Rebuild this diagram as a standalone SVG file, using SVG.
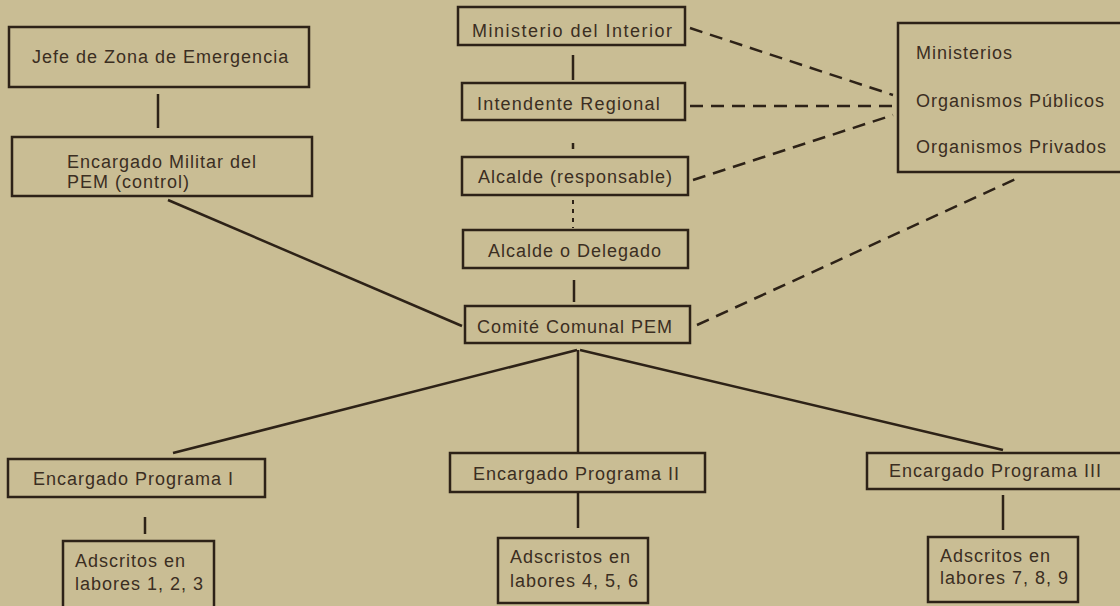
<svg xmlns="http://www.w3.org/2000/svg" width="1120" height="606" viewBox="0 0 1120 606">
<style>
.bg{fill:#c9bd94}
.box{fill:none;stroke:#2d2217;stroke-width:2.5}
.t{font-family:"Liberation Sans",Arial,sans-serif;font-size:18px;fill:#3b2e22;letter-spacing:1px}
.ln{stroke:#2d2217;stroke-width:2.5;fill:none}
.dash{stroke:#2d2217;stroke-width:2.5;fill:none;stroke-dasharray:13 8}
.dot{stroke:#2d2217;stroke-width:2;fill:none;stroke-dasharray:4 5}
</style>
<rect class="bg" x="0" y="0" width="1120" height="606"/>
<g id="connectors">
<line class="ln" x1="158" y1="94" x2="158" y2="128"/>
<line class="ln" x1="573" y1="55" x2="573" y2="80"/>
<line class="ln" x1="573" y1="143" x2="573" y2="149"/>
<line class="dot" x1="573" y1="200" x2="573" y2="228"/>
<line class="ln" x1="574" y1="280" x2="574" y2="302"/>
<line class="ln" x1="168" y1="200" x2="462" y2="326"/>
<line class="ln" x1="577" y1="350" x2="173" y2="453"/>
<line class="ln" x1="578" y1="350" x2="578" y2="453"/>
<line class="ln" x1="580" y1="350" x2="1003" y2="450"/>
<line class="ln" x1="145" y1="517" x2="145" y2="534"/>
<line class="ln" x1="578" y1="492" x2="578" y2="528"/>
<line class="ln" x1="1003" y1="495" x2="1003" y2="530"/>
<line class="dash" x1="690" y1="28" x2="893" y2="95"/>
<line class="dash" x1="690" y1="106" x2="893" y2="106"/>
<line class="dash" x1="693" y1="180" x2="893" y2="115"/>
<line class="dash" x1="697" y1="325" x2="1020" y2="177"/>
</g>
<g id="jefe"><rect class="box" x="9" y="27" width="300" height="60"/><text class="t" x="32" y="63">Jefe de Zona de Emergencia</text></g>
<g id="militar"><rect class="box" x="12" y="137" width="300" height="59"/><text class="t" x="67" y="168">Encargado Militar del</text><text class="t" x="67" y="188">PEM (control)</text></g>
<g id="ministerio"><rect class="box" x="458" y="7" width="227" height="38"/><text class="t" x="472" y="37" style="letter-spacing:1.5px">Ministerio del Interior</text></g>
<g id="intendente"><rect class="box" x="462" y="83" width="223" height="37"/><text class="t" x="477" y="110" style="letter-spacing:1.2px">Intendente Regional</text></g>
<g id="alcalde"><rect class="box" x="462" y="157" width="226" height="38"/><text class="t" x="478" y="183">Alcalde (responsable)</text></g>
<g id="delegado"><rect class="box" x="463" y="230" width="225" height="38"/><text class="t" x="488" y="257">Alcalde o Delegado</text></g>
<g id="comite"><rect class="box" x="465" y="306" width="225" height="37"/><text class="t" x="477" y="333">Comité Comunal PEM</text></g>
<g id="organismos"><rect class="box" x="898" y="23" width="240" height="149"/><text class="t" x="916" y="59">Ministerios</text><text class="t" x="916" y="107">Organismos Públicos</text><text class="t" x="916" y="153">Organismos Privados</text></g>
<g id="programa1"><rect class="box" x="8" y="459" width="257" height="38"/><text class="t" x="33" y="485">Encargado Programa I</text></g>
<g id="programa2"><rect class="box" x="450" y="453" width="255" height="39"/><text class="t" x="473" y="480">Encargado Programa II</text></g>
<g id="programa3"><rect class="box" x="867" y="453" width="270" height="36"/><text class="t" x="889" y="477">Encargado Programa III</text></g>
<g id="adscritos1"><rect class="box" x="63" y="541" width="151" height="72"/><text class="t" x="75" y="567">Adscritos en</text><text class="t" x="75" y="590">labores 1, 2, 3</text></g>
<g id="adscritos2"><rect class="box" x="498" y="538" width="150" height="65"/><text class="t" x="510" y="563">Adscristos en</text><text class="t" x="510" y="587">labores 4, 5, 6</text></g>
<g id="adscritos3"><rect class="box" x="928" y="537" width="150" height="65"/><text class="t" x="940" y="562">Adscritos en</text><text class="t" x="940" y="584">labores 7, 8, 9</text></g>
</svg>
